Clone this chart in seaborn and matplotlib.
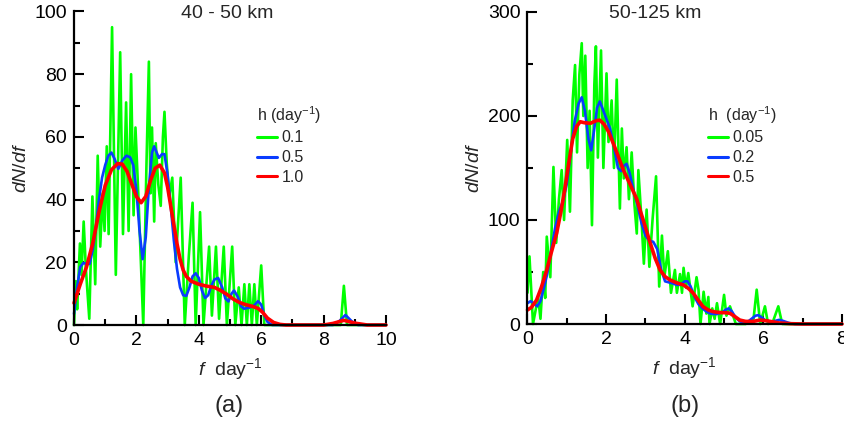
import matplotlib
matplotlib.use("Agg")
import matplotlib.pyplot as plt
from matplotlib.ticker import MultipleLocator
import seaborn as sns

# ---------------- panel (a): 40 - 50 km ----------------
fa_green = [0.00, 0.06, 0.10, 0.19, 0.24, 0.31, 0.38, 0.49, 0.59, 0.68, 0.76, 0.84,
            0.92, 0.98, 1.05, 1.11, 1.22, 1.34, 1.48, 1.57, 1.67, 1.75, 1.83, 1.91,
            1.97, 2.06, 2.22, 2.32, 2.40, 2.45, 2.50, 2.57, 2.62, 2.70, 2.78, 2.85,
            2.90, 2.97, 3.05, 3.15, 3.26, 3.42, 3.55, 3.68, 3.80, 3.90, 4.04, 4.15,
            4.33, 4.42, 4.55, 4.65, 4.80, 4.90, 5.07, 5.17, 5.28, 5.37, 5.46, 5.54,
            5.62, 5.70, 5.78, 5.86, 6.00, 6.10, 8.55, 8.65, 8.75, 10.0]
dn_a_green = [0, 14, 5, 26, 16, 33, 18, 2, 41, 13, 54, 25,
              42, 30, 57, 29, 95, 16, 87, 29, 71, 30, 80, 35,
              63, 42, 0, 50, 84, 42, 63, 33, 58, 45, 38, 60,
              68, 52, 41, 47, 20, 47, 0, 22, 39, 0, 36, 0,
              25, 3, 25, 2, 25, 0, 25, 0, 12, 0, 13, 0,
              13, 0, 13, 0, 19, 0, 0, 12.5, 0, 0]

fa_blue = [0.0, 0.1, 0.2, 0.3, 0.4, 0.5, 0.6, 0.7, 0.8, 0.9, 1.0, 1.1, 1.2, 1.3,
           1.42, 1.55, 1.68, 1.8, 1.9, 2.0, 2.1, 2.2, 2.3, 2.4, 2.5, 2.57, 2.65,
           2.72, 2.82, 2.9, 3.0, 3.1, 3.2, 3.3, 3.4, 3.5, 3.6, 3.7, 3.8, 3.9, 4.0,
           4.1, 4.2, 4.3, 4.4, 4.5, 4.62, 4.75, 4.85, 4.95, 5.05, 5.13, 5.25, 5.35,
           5.45, 5.6, 5.75, 5.9, 6.0, 6.1, 6.2, 6.35, 8.3, 8.5, 8.7, 8.9, 9.1, 10.0]
dn_a_blue = [3.5, 12, 18.5, 19.8, 19.5, 19.5, 24, 31, 40, 47, 51, 54, 55, 53,
             49.8, 52.5, 54, 53.5, 51, 43, 30, 21, 28, 44, 55, 57, 55,
             53.3, 54.5, 54.5, 48, 38, 27, 18, 12, 9.5, 9.3, 12, 15.5, 16.5, 15,
             11, 8.6, 9.5, 12.5, 14.5, 15, 12, 8.5, 7.5, 10, 11, 9, 6,
             5.2, 5.5, 6, 7.6, 6.5, 3, 1, 0, 0, 1.2, 3.2, 1.2, 0, 0]

fa_red = [0.0, 0.2, 0.4, 0.6, 0.8, 1.0, 1.2, 1.4, 1.55, 1.7, 1.85, 2.0, 2.15,
          2.3, 2.45, 2.6, 2.75, 2.9, 3.0, 3.1, 3.2, 3.3, 3.4, 3.5, 3.6, 3.75,
          4.0, 4.25, 4.5, 4.7, 4.9, 5.1, 5.3, 5.5, 5.7, 5.9, 6.05, 6.2, 6.4,
          6.6, 6.8, 8.0, 8.3, 8.65, 9.0, 9.4, 10.0]
dn_a_red = [7, 13, 18.5, 26, 36, 44.5, 49.5, 51.5, 51.3, 49, 45, 41, 39,
            41, 46, 50, 51, 48.5, 44, 38, 32, 26, 21, 17.5, 15.5, 14,
            13, 12.4, 12, 11, 9.8, 8.3, 7.2, 6.5, 6.0, 5.3, 4, 2.2, 0.8,
            0.2, 0, 0, 0.5, 1.5, 0.6, 0, 0]

# ---------------- panel (b): 50-125 km ----------------
fb_green = [0.00, 0.05, 0.14, 0.27, 0.33, 0.40, 0.45, 0.49, 0.58, 0.66, 0.73,
            0.80, 0.87, 0.93, 1.01, 1.08, 1.15, 1.21, 1.26, 1.32, 1.38, 1.42,
            1.47, 1.53, 1.58, 1.64, 1.70, 1.74, 1.79, 1.87, 1.93, 2.01, 2.06,
            2.14, 2.20, 2.27, 2.35, 2.40, 2.45, 2.52, 2.58, 2.65, 2.72, 2.78,
            2.82, 2.90, 2.96, 3.03, 3.10, 3.18, 3.27, 3.35, 3.42, 3.48, 3.57,
            3.65, 3.75, 3.80, 3.88, 3.93, 3.97, 4.03, 4.09, 4.20, 4.30, 4.35,
            4.40, 4.48, 4.55, 4.60, 4.63, 4.70, 4.76, 4.82, 4.90, 5.00, 5.06,
            5.15, 5.30, 5.55, 5.75, 5.83, 5.92, 6.04, 6.12, 6.25, 6.38, 6.48,
            8.00]
dn_b_green = [30, 65, 0, 26, 5, 50, 25, 84, 45, 151, 78,
              120, 148, 100, 177, 108, 215, 249, 165, 240, 270, 200,
              258, 150, 205, 95, 230, 267, 160, 263, 150, 241, 175,
              215, 150, 235, 111, 188, 140, 170, 120, 165, 115, 87,
              148, 100, 58, 110, 55, 100, 142, 36, 85, 45, 70,
              30, 52, 30, 48, 30, 54, 35, 49, 17, 45, 33,
              0, 31, 10, 26, 0, 15, 5, 20, 0, 28, 8,
              17, 0, 0, 5, 33, 0, 17, 0, 3, 17, 0,
              0]

fb_blue = [0.0, 0.08, 0.15, 0.25, 0.33, 0.42, 0.5, 0.6, 0.7, 0.8, 0.9, 1.0,
           1.1, 1.2, 1.3, 1.38, 1.46, 1.55, 1.62, 1.7, 1.77, 1.84, 1.92, 2.0,
           2.1, 2.2, 2.3, 2.38, 2.45, 2.52, 2.6, 2.7, 2.8, 2.9, 3.0, 3.1, 3.2,
           3.3, 3.4, 3.5, 3.6, 3.7, 3.8, 3.9, 4.0, 4.07, 4.15, 4.25, 4.35,
           4.45, 4.55, 4.65, 4.8, 4.95, 5.05, 5.12, 5.2, 5.3, 5.4, 5.5, 5.6,
           5.7, 5.8, 5.87, 5.95, 6.05, 6.2, 6.3, 6.4, 6.5, 6.65, 6.8, 8.0]
dn_b_blue = [20, 22, 20, 17, 22, 35, 48, 70, 92, 108, 118, 135,
             165, 195, 212, 218, 205, 178, 167, 188, 208, 214, 206, 198,
             188, 170, 150, 147, 152, 154, 145, 128, 114, 97, 85, 80, 79,
             72, 52, 41, 40, 39, 37.5, 38, 41, 41, 36, 26, 19,
             15, 12, 10, 9.5, 11, 14, 15, 12, 6, 2.5, 1.5, 2,
             5, 8, 8.5, 6.5, 3.5, 2, 3, 4, 3, 1, 0, 0]

fb_red = [0.0, 0.1, 0.23, 0.35, 0.49, 0.6, 0.74, 0.85, 0.95, 1.05, 1.15, 1.25,
          1.34, 1.45, 1.6, 1.75, 1.84, 1.95, 2.06, 2.2, 2.32, 2.44, 2.6, 2.78,
          2.86, 3.0, 3.12, 3.25, 3.37, 3.5, 3.63, 3.8, 3.97, 4.1, 4.22, 4.35,
          4.47, 4.6, 4.73, 4.9, 5.05, 5.15, 5.28, 5.4, 5.55, 5.74, 5.92, 6.1,
          6.4, 6.7, 7.0, 8.0]
dn_b_red = [13.5, 16, 23, 35, 52, 68, 87, 108, 130, 155, 178, 190,
            194.5, 193.5, 193, 195.5, 196, 192, 185, 172, 160, 148, 135, 120,
            110, 93, 78, 63, 52, 45.5, 42.3, 39.5, 37.5, 34, 29.5, 22.5,
            16.6, 13.5, 11.8, 11, 10.8, 10.3, 7, 3.8, 2.5, 2.5, 3.8, 3,
            1, 0.3, 0, 0]

labels_a = ["0.1", "0.5", "1.0"]
labels_b = ["0.05", "0.2", "0.5"]
titles = ["40 - 50 km", "50-125 km"]
letters = ["(a)", "(b)"]

GREEN, BLUE, RED = "#00ff00", "#0a3cff", "#ff0000"

sns.set_theme(style="ticks")
plt.rcParams["font.family"] = ["Liberation Sans", "DejaVu Sans"]
plt.rcParams["mathtext.fontset"] = "custom"
plt.rcParams["mathtext.rm"] = "Liberation Sans"
plt.rcParams["mathtext.it"] = "Liberation Sans:italic"
plt.rcParams["mathtext.bf"] = "Liberation Sans:bold"

W, H = 845, 423
fig = plt.figure(figsize=(W / 100, H / 100), dpi=100)


def fx(px):
    return px / W


def fy(py):
    return 1 - py / H


ax_a = fig.add_axes([fx(74), fy(325), fx(386) - fx(74), fy(11.5) - fy(325)])
ax_b = fig.add_axes([fx(527.5), fy(324), fx(842) - fx(527.5), fy(12) - fy(324)])

panels = [
    (ax_a, [(fa_green, dn_a_green), (fa_blue, dn_a_blue), (fa_red, dn_a_red)],
     labels_a, (0, 10), (0, 100), 2, 1, 20, 10, 257, 227, 229.5),
    (ax_b, [(fb_green, dn_b_green), (fb_blue, dn_b_blue), (fb_red, dn_b_red)],
     labels_b, (0, 8), (0, 300), 2, 1, 100, 50, 708, 655, 684.7),
]

for i, (ax, series, labs, xl, yl, xmaj, xmin, ymaj, ymin, legx, titx, cx) in enumerate(panels):
    for (xs, ys), col, lw, lab in zip(series, [GREEN, BLUE, RED], [1.9, 1.9, 2.6], labs):
        sns.lineplot(x=xs, y=ys, ax=ax, color=col, linewidth=lw, label=lab,
                     estimator=None, sort=False, clip_on=False)
    ax.set_xlim(*xl)
    ax.set_ylim(*yl)
    ax.xaxis.set_major_locator(MultipleLocator(xmaj))
    ax.xaxis.set_minor_locator(MultipleLocator(xmin))
    ax.yaxis.set_major_locator(MultipleLocator(ymaj))
    ax.yaxis.set_minor_locator(MultipleLocator(ymin))
    ax.tick_params(which="major", direction="in", length=7.5, width=1.5,
                   labelsize=14, pad=5, color="black", labelcolor="black")
    ax.tick_params(which="minor", direction="in", length=4.5, width=1.5,
                   color="black")
    for s in ["top", "right"]:
        ax.spines[s].set_visible(False)
    for s in ["left", "bottom"]:
        ax.spines[s].set_linewidth(1.6)
        ax.spines[s].set_color("black")
    ax.set_facecolor("white")
    ax.grid(False)

    ax.set_ylabel(r"$dN/df$", fontsize=14)
    ax.yaxis.set_label_coords(-44 / (ax.get_position().width * W), 0.5)
    ax.set_xlabel(r"$f$  day$^{-1}$", fontsize=14, labelpad=5)

    leg_title = "h (day$^{-1}$)" if i == 0 else "h  (day$^{-1}$)"
    leg = ax.legend(title=leg_title, loc="upper left", frameon=False,
                    bbox_to_anchor=(fx(legx), fy(104)), bbox_transform=fig.transFigure,
                    fontsize=11.5, title_fontsize=11.5, handlelength=1.25,
                    handletextpad=0.3, labelspacing=0.3, borderpad=0,
                    borderaxespad=0, alignment="left")
    for h in leg.get_lines():
        h.set_linewidth(2.2)

    fig.text(fx(titx), fy(14), titles[i], fontsize=14, ha="center", va="center")
    fig.text(fx(cx), fy(406), letters[i], fontsize=17, ha="center", va="center")

fig.savefig("out.png", dpi=100, facecolor="white")
